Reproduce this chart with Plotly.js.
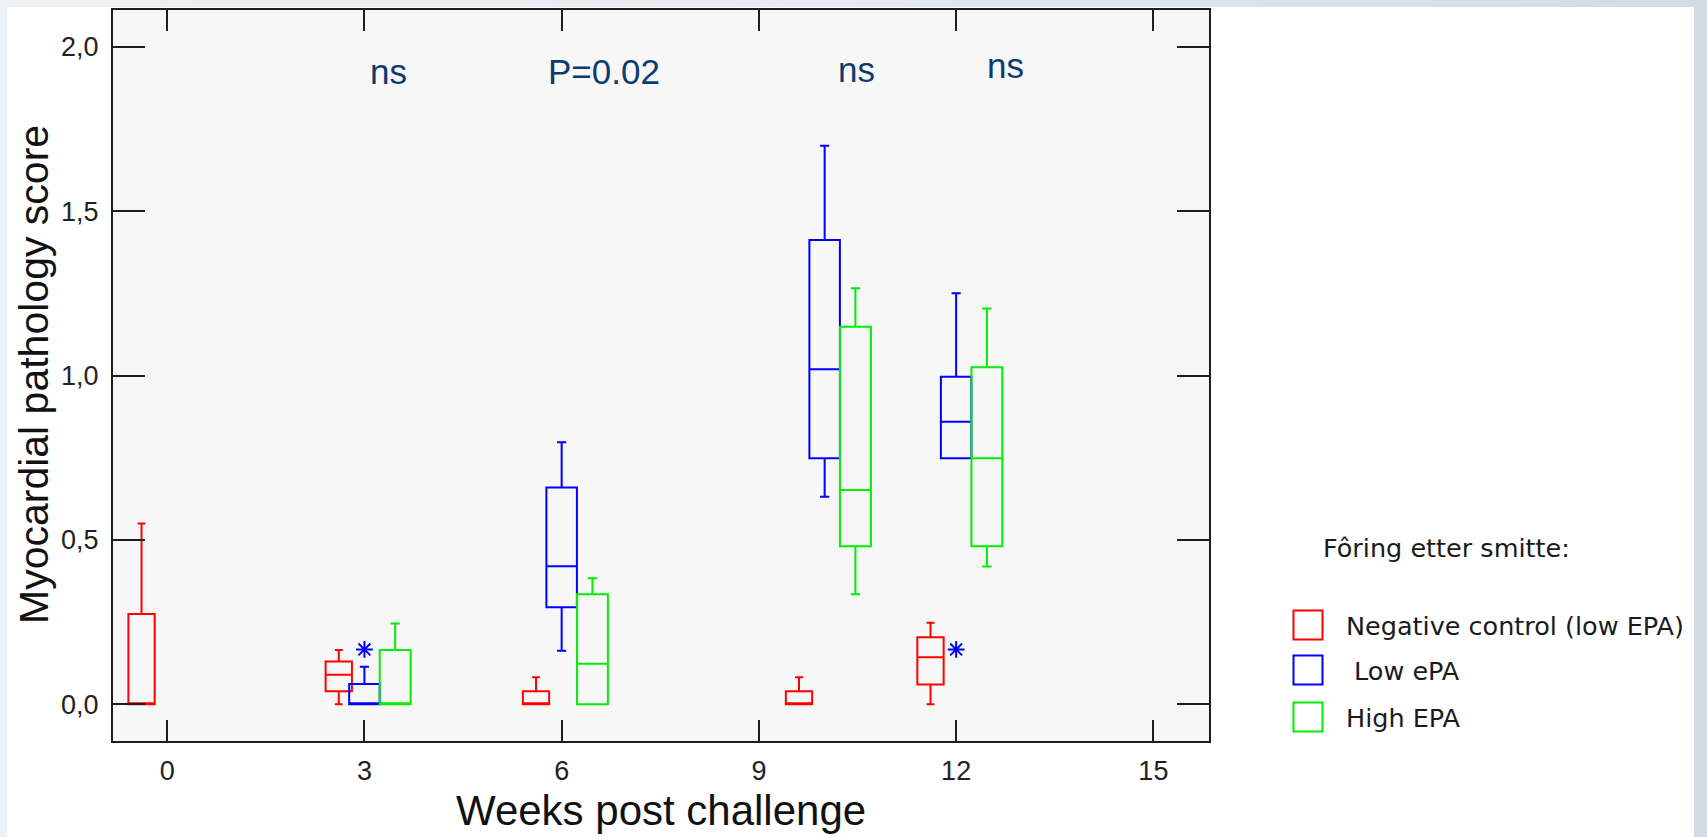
<!DOCTYPE html>
<html>
<head>
<meta charset="utf-8">
<script src="https://cdn.plot.ly/plotly-3.0.1.min.js"></script>
<style>
html,body{margin:0;padding:0;width:1707px;height:837px;overflow:hidden;
  background:linear-gradient(90deg,#eef1f4 0%,#e7ebef 45%,#d2dbe4 100%);}
#panel{position:absolute;left:7px;top:7px;width:1687px;height:830px;background:#ffffff;}
#chart{position:absolute;left:0;top:0;width:1707px;height:837px;}
</style>
</head>
<body>
<div id="panel"></div>
<div id="chart"></div>
<script>
// ---------------- DATA ----------------
const groupNames = ['Negative control (low EPA)', '\u00a0Low ePA', 'High EPA'];

// Negative control (low EPA)
const negWeeks      = [0, 3, 6, 10, 12];
const negLowerFence = [0, 0, 0, 0, 0];
const negQ1         = [0, 0.04, 0, 0, 0.06];
const negMedian     = [0, 0.09, 0, 0, 0.143];
const negQ3         = [0.275, 0.13, 0.04, 0.04, 0.204];
const negUpperFence = [0.55, 0.165, 0.082, 0.082, 0.248];

// Low ePA
const lowWeeks      = [3, 6, 10, 12];
const lowLowerFence = [0, 0.163, 0.631, 0.748];
const lowQ1         = [0, 0.295, 0.748, 0.748];
const lowMedian     = [0, 0.42, 1.019, 0.859];
const lowQ3         = [0.062, 0.659, 1.412, 0.996];
const lowUpperFence = [0.114, 0.797, 1.699, 1.25];
// extreme values (*) of the Low ePA group
const lowExtremeWeeks  = [3, 12];
const lowExtremeValues = [0.167, 0.167];

// High EPA
const highWeeks      = [3, 6, 10, 12];
const highLowerFence = [0, 0, 0.335, 0.419];
const highQ1         = [0, 0, 0.481, 0.481];
const highMedian     = [0, 0.123, 0.652, 0.748];
const highQ3         = [0.165, 0.335, 1.148, 1.025];
const highUpperFence = [0.246, 0.383, 1.265, 1.204];

// significance labels
const sigText  = ['ns', 'P=0.02', 'ns', 'ns'];
const sigWeeks = [3, 6, 10, 12];

// axis ticks
const xTickVals = [0, 3, 6, 9, 12, 15];
const xTickText = ['0', '3', '6', '9', '12', '15'];
const yTickVals = [0, 0.5, 1.0, 1.5, 2.0];
const yTickText = ['0,0', '0,5', '1,0', '1,5', '2,0'];

// ---------------- STYLE ----------------
const colors  = ['#ff0000', '#0000ff', '#00ee00'];
const offsets = [-0.39, 0, 0.468];   // cluster offsets in weeks
const widths  = [0.40, 0.464, 0.47];
const sigOffsetX = [0.366, 0.644, 0.49, 0.757];
const sigY       = [1.926, 1.926, 1.931, 1.944];

const W = 1707, H = 837;
const L = 113, R = 1209, T = 10, B = 741;
const pxX = x => (x - L) / (R - L);
const pxY = y => (B - y) / (B - T);

function boxTrace(weeks, lf, q1, med, q3, uf, i) {
  return {
    type: 'box',
    name: groupNames[i],
    x: weeks.map(w => w + offsets[i]),
    lowerfence: lf, q1: q1, median: med, q3: q3, upperfence: uf,
    width: widths[i],
    whiskerwidth: 0.3,
    boxpoints: false,
    line: {color: colors[i], width: 2},
    fillcolor: 'rgba(0,0,0,0)',
    hoverinfo: 'skip',
    showlegend: false
  };
}

const data = [
  boxTrace(negWeeks, negLowerFence, negQ1, negMedian, negQ3, negUpperFence, 0),
  boxTrace(lowWeeks, lowLowerFence, lowQ1, lowMedian, lowQ3, lowUpperFence, 1),
  boxTrace(highWeeks, highLowerFence, highQ1, highMedian, highQ3, highUpperFence, 2),
  {
    type: 'scatter', mode: 'markers',
    x: lowExtremeWeeks.map(w => w + offsets[1]),
    y: lowExtremeValues,
    marker: {symbol: 'asterisk-open', size: 14, color: colors[1], line: {color: colors[1], width: 2}},
    hoverinfo: 'skip', showlegend: false
  }
];

const annotations = [];
sigText.forEach((t, i) => {
  annotations.push({
    xref: 'x', yref: 'y', x: sigWeeks[i] + sigOffsetX[i], y: sigY[i],
    text: t, showarrow: false, xanchor: 'center', yanchor: 'middle',
    font: {family: 'Liberation Sans, Arial, sans-serif', size: 35, color: '#0d3b6e'}
  });
});
// axis titles
annotations.push({
  xref: 'paper', yref: 'paper', x: pxX(34), y: pxY(375),
  text: 'Myocardial pathology score', textangle: -90, showarrow: false,
  xanchor: 'center', yanchor: 'middle',
  font: {family: 'Liberation Sans, Arial, sans-serif', size: 41, color: '#111111'}
});
annotations.push({
  xref: 'paper', yref: 'paper', x: pxX(661), y: pxY(810),
  text: 'Weeks post challenge', showarrow: false,
  xanchor: 'center', yanchor: 'middle',
  font: {family: 'Liberation Sans, Arial, sans-serif', size: 42, color: '#111111'}
});
// legend
const legFont = {family: 'DejaVu Sans, sans-serif', size: 25.5, color: '#1a1a1a'};
annotations.push({
  xref: 'paper', yref: 'paper', x: pxX(1321), y: pxY(548),
  text: 'Fôring etter smitte:', showarrow: false, xanchor: 'left', yanchor: 'middle', font: legFont
});
const legRowY = [625, 670, 717];
const shapes = [];
groupNames.forEach((n, i) => {
  annotations.push({
    xref: 'paper', yref: 'paper', x: pxX(1344), y: pxY(legRowY[i] + 1),
    text: n, showarrow: false, xanchor: 'left', yanchor: 'middle', font: legFont
  });
  shapes.push({
    type: 'rect', xref: 'paper', yref: 'paper',
    x0: pxX(1293.5), x1: pxX(1322.5),
    y0: pxY(legRowY[i] - 14.5), y1: pxY(legRowY[i] + 14.5),
    line: {color: colors[i], width: 2}, fillcolor: 'rgba(0,0,0,0)'
  });
});

const tickFont = {family: 'Liberation Sans, Arial, sans-serif', size: 27, color: '#222222'};
const layout = {
  width: W, height: H,
  margin: {l: L, r: W - R, t: T, b: H - B, pad: 0},
  paper_bgcolor: 'rgba(0,0,0,0)',
  plot_bgcolor: '#f7f7f7',
  boxmode: 'overlay',
  showlegend: false,
  xaxis: {
    range: [-0.824, 15.846], tickvals: xTickVals, ticktext: xTickText,
    ticks: 'inside', ticklen: 21, tickwidth: 2, tickcolor: '#1e1e1e',
    showline: true, linewidth: 2, linecolor: '#1e1e1e', mirror: 'ticks',
    showgrid: false, zeroline: false, tickfont: tickFont, ticklabelstandoff: 5,
    fixedrange: true
  },
  yaxis: {
    range: [-0.1116, 2.1116], tickvals: yTickVals, ticktext: yTickText,
    ticks: 'inside', ticklen: 32, tickwidth: 2, tickcolor: '#1e1e1e',
    showline: true, linewidth: 2, linecolor: '#1e1e1e', mirror: 'ticks',
    showgrid: false, zeroline: false, tickfont: tickFont, ticklabelstandoff: 7,
    fixedrange: true
  },
  annotations: annotations,
  shapes: shapes
};

Plotly.newPlot('chart', data, layout, {displayModeBar: false, staticPlot: true});
</script>
</body>
</html>
